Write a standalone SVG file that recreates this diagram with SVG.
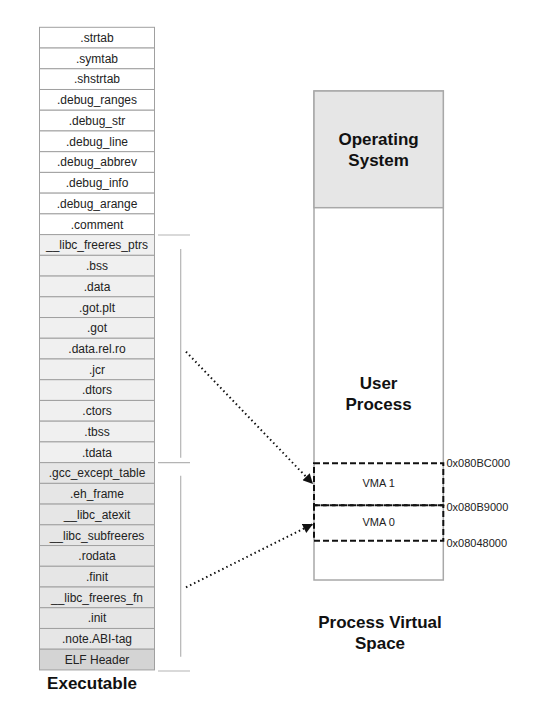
<svg xmlns="http://www.w3.org/2000/svg" width="535" height="707" viewBox="0 0 535 707">
<defs>
<style>
.sec{stroke:#a0a0a0;stroke-width:1}
.w{fill:#ffffff}
.g1{fill:#f0f0f0}
.g2{fill:#e6e6e6}
.g3{fill:#d4d4d4}
.t{font-family:"Liberation Sans",Arial,sans-serif;font-size:12px;fill:#222;text-anchor:middle}
.v{font-family:"Liberation Sans",Arial,sans-serif;font-size:11px;fill:#222;text-anchor:middle}
.big{font-family:"Liberation Sans",Arial,sans-serif;font-size:17px;font-weight:bold;fill:#111;text-anchor:middle}
.addr{font-family:"Liberation Sans",Arial,sans-serif;font-size:11px;fill:#222}
.br{stroke:#b4b4b4;stroke-width:1.2;fill:none}
.vma{fill:none;stroke:#111;stroke-width:2;stroke-dasharray:6,3}
.dot{fill:none;stroke:#111;stroke-width:2;stroke-dasharray:1.5,3}
</style>
<marker id="ah" viewBox="0 0 10 10" refX="10" refY="5" markerWidth="11" markerHeight="10" markerUnits="userSpaceOnUse" orient="auto">
<path d="M0,0 L10,5 L0,10 z" fill="#111"/>
</marker>
</defs>
<rect width="535" height="707" fill="#fff"/>

<g id="executable">
<g id="s-strtab"><rect class="sec w" x="39.5" y="27.3" width="115" height="20.73"/><text class="t" x="97" y="42">.strtab</text></g>
<g id="s-symtab"><rect class="sec w" x="39.5" y="48.03" width="115" height="20.73"/><text class="t" x="97" y="62.7">.symtab</text></g>
<g id="s-shstrtab"><rect class="sec w" x="39.5" y="68.76" width="115" height="20.73"/><text class="t" x="97" y="83.4">.shstrtab</text></g>
<g id="s-debug_ranges"><rect class="sec w" x="39.5" y="89.49" width="115" height="20.73"/><text class="t" x="97" y="104.2">.debug_ranges</text></g>
<g id="s-debug_str"><rect class="sec w" x="39.5" y="110.22" width="115" height="20.73"/><text class="t" x="97" y="124.9">.debug_str</text></g>
<g id="s-debug_line"><rect class="sec w" x="39.5" y="130.95" width="115" height="20.73"/><text class="t" x="97" y="145.6">.debug_line</text></g>
<g id="s-debug_abbrev"><rect class="sec w" x="39.5" y="151.68" width="115" height="20.73"/><text class="t" x="97" y="166.4">.debug_abbrev</text></g>
<g id="s-debug_info"><rect class="sec w" x="39.5" y="172.41" width="115" height="20.73"/><text class="t" x="97" y="187.1">.debug_info</text></g>
<g id="s-debug_arange"><rect class="sec w" x="39.5" y="193.14" width="115" height="20.73"/><text class="t" x="97" y="207.8">.debug_arange</text></g>
<g id="s-comment"><rect class="sec w" x="39.5" y="213.87" width="115" height="20.73"/><text class="t" x="97" y="228.6">.comment</text></g>
<g id="s-libc_freeres_ptrs"><rect class="sec g1" x="39.5" y="234.6" width="115" height="20.73"/><text class="t" x="97" y="249.3">__libc_freeres_ptrs</text></g>
<g id="s-bss"><rect class="sec g1" x="39.5" y="255.33" width="115" height="20.73"/><text class="t" x="97" y="270">.bss</text></g>
<g id="s-data"><rect class="sec g1" x="39.5" y="276.06" width="115" height="20.73"/><text class="t" x="97" y="290.8">.data</text></g>
<g id="s-got_plt"><rect class="sec g1" x="39.5" y="296.79" width="115" height="20.73"/><text class="t" x="97" y="311.5">.got.plt</text></g>
<g id="s-got"><rect class="sec g1" x="39.5" y="317.52" width="115" height="20.73"/><text class="t" x="97" y="332.2">.got</text></g>
<g id="s-data_rel_ro"><rect class="sec g1" x="39.5" y="338.25" width="115" height="20.73"/><text class="t" x="97" y="353">.data.rel.ro</text></g>
<g id="s-jcr"><rect class="sec g1" x="39.5" y="358.98" width="115" height="20.73"/><text class="t" x="97" y="373.7">.jcr</text></g>
<g id="s-dtors"><rect class="sec g1" x="39.5" y="379.71" width="115" height="20.73"/><text class="t" x="97" y="394.4">.dtors</text></g>
<g id="s-ctors"><rect class="sec g1" x="39.5" y="400.44" width="115" height="20.73"/><text class="t" x="97" y="415.1">.ctors</text></g>
<g id="s-tbss"><rect class="sec g1" x="39.5" y="421.17" width="115" height="20.73"/><text class="t" x="97" y="435.9">.tbss</text></g>
<g id="s-tdata"><rect class="sec g1" x="39.5" y="441.9" width="115" height="20.73"/><text class="t" x="97" y="456.6">.tdata</text></g>
<g id="s-gcc_except_table"><rect class="sec g2" x="39.5" y="462.63" width="115" height="20.73"/><text class="t" x="97" y="477.3">.gcc_except_table</text></g>
<g id="s-eh_frame"><rect class="sec g2" x="39.5" y="483.36" width="115" height="20.73"/><text class="t" x="97" y="498.1">.eh_frame</text></g>
<g id="s-libc_atexit"><rect class="sec g2" x="39.5" y="504.09" width="115" height="20.73"/><text class="t" x="97" y="518.8">__libc_atexit</text></g>
<g id="s-libc_subfreeres"><rect class="sec g2" x="39.5" y="524.82" width="115" height="20.73"/><text class="t" x="97" y="539.5">__libc_subfreeres</text></g>
<g id="s-rodata"><rect class="sec g2" x="39.5" y="545.55" width="115" height="20.73"/><text class="t" x="97" y="560.3">.rodata</text></g>
<g id="s-finit"><rect class="sec g2" x="39.5" y="566.28" width="115" height="20.73"/><text class="t" x="97" y="581">.finit</text></g>
<g id="s-libc_freeres_fn"><rect class="sec g2" x="39.5" y="587.01" width="115" height="20.73"/><text class="t" x="97" y="601.7">__libc_freeres_fn</text></g>
<g id="s-init"><rect class="sec g2" x="39.5" y="607.74" width="115" height="20.73"/><text class="t" x="97" y="622.4">.init</text></g>
<g id="s-note_abi_tag"><rect class="sec g2" x="39.5" y="628.47" width="115" height="20.73"/><text class="t" x="97" y="643.2">.note.ABI-tag</text></g>
<g id="s-elf_header"><rect class="sec g3" x="39.5" y="649.2" width="115" height="20.73"/><text class="t" x="97" y="663.9">ELF Header</text></g>
<text class="big" x="92" y="688.5">Executable</text>
</g>

<g id="brackets">
<path class="br" d="M158,235 H190 M180.7,249 V457.7 M158,462.7 H190 M180.7,475.7 V656.7 M158,671 H190"/>
</g>

<g id="process-space">
<rect x="314" y="91" width="129.3" height="489" fill="#fff" stroke="#a8a8a8" stroke-width="1.5"/>
<g id="os">
<rect x="314" y="91" width="129.3" height="116.7" fill="#e6e6e6" stroke="#a8a8a8" stroke-width="1.5"/>
<text class="big" x="378.6" y="145">Operating</text>
<text class="big" x="378.6" y="166">System</text>
</g>
<g id="user-process">
<text class="big" x="378.6" y="388.5">User</text>
<text class="big" x="378.6" y="410">Process</text>
</g>
<g id="vma1">
<rect class="vma" x="314" y="463.3" width="129.3" height="42"/>
<text class="v" x="378.6" y="487">VMA 1</text>
</g>
<g id="vma0">
<rect class="vma" x="314" y="505.3" width="129.3" height="35.4"/>
<text class="v" x="378.6" y="526">VMA 0</text>
</g>
<text class="addr" x="446.5" y="467">0x080BC000</text>
<text class="addr" x="446.5" y="511">0x080B9000</text>
<text class="addr" x="446.5" y="547">0x08048000</text>
<text class="big" x="380" y="628">Process Virtual</text>
<text class="big" x="380" y="649">Space</text>
</g>

<g id="connectors">
<path class="dot" d="M186,351.7 L313,484" marker-end="url(#ah)"/>
<path class="dot" d="M186,587.3 L313,524" marker-end="url(#ah)"/>
</g>
</svg>
